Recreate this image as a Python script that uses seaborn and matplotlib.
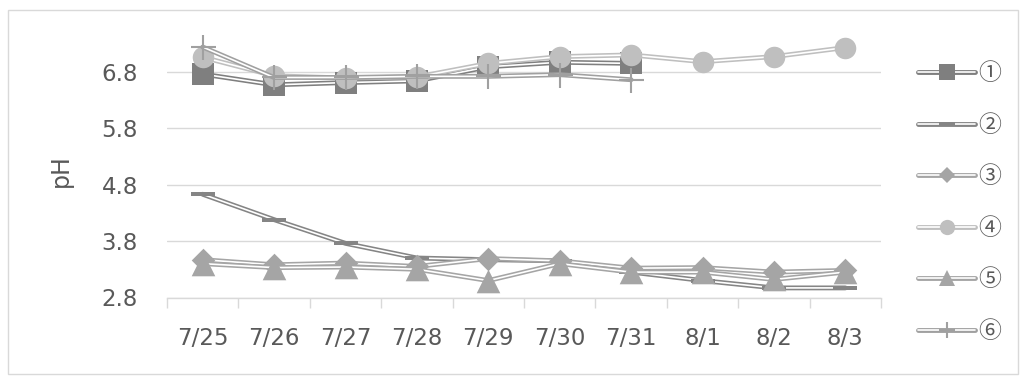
import numpy as np
import seaborn as sns
import matplotlib.pyplot as plt
from matplotlib.lines import Line2D
from matplotlib.legend_handler import HandlerTuple
from matplotlib.patches import Rectangle

# Sampling dates and pH readings for six samples (① and ⑥ stop on 7/31)
dates = ['7/25', '7/26', '7/27', '7/28', '7/29', '7/30', '7/31', '8/1', '8/2', '8/3']
ph_1 = [6.76, 6.57, 6.61, 6.64, 6.89, 6.97, 6.95]
ph_2 = [4.63, 4.18, 3.76, 3.50, 3.47, 3.45, 3.25, 3.10, 2.97, 2.97]
ph_3 = [3.47, 3.38, 3.41, 3.35, 3.49, 3.45, 3.32, 3.33, 3.25, 3.28]
ph_4 = [7.06, 6.73, 6.69, 6.71, 6.95, 7.07, 7.10, 6.98, 7.07, 7.23]
ph_5 = [3.40, 3.33, 3.34, 3.30, 3.10, 3.40, 3.25, 3.25, 3.12, 3.25]
ph_6 = [7.24, 6.70, 6.70, 6.72, 6.72, 6.75, 6.66]
labels = ['①', '②', '③', '④', '⑤', '⑥']
y_ticks = [2.8, 3.8, 4.8, 5.8, 6.8]

sns.set_theme(style='white')
plt.rcParams['font.family'] = ['DejaVu Sans', 'Noto Sans CJK JP']

TEXT = '#595959'
GRID = '#d9d9d9'

# horizontal bar marker for sample ②
bar = [(-1, -0.2), (1, -0.2), (1, 0.2), (-1, 0.2), (-1, -0.2)]

styles = [
    # color, marker, scatter size (pt), legend size (pt), edge width
    ('#7f7f7f', 's', 16, 11, 0),
    ('#858585', bar, 17, 12, 0),
    ('#a5a5a5', 'D', 12, 8, 0),
    ('#bfbfbf', 'o', 15.5, 11, 0),
    ('#a5a5a5', '^', 17, 12, 0),
    ('#a0a0a0', '+', 18, 12, 1.5),
]
series = [ph_1, ph_2, ph_3, ph_4, ph_5, ph_6]

fig = plt.figure(figsize=(10.26, 3.84), dpi=100)
fig.patches.append(Rectangle((8 / 1026, 10 / 384), 1010 / 1026, 364 / 384,
                             transform=fig.transFigure, fill=False,
                             edgecolor=GRID, linewidth=1))
ax = fig.add_axes([167 / 1026, 1 - 297.5 / 384, 714 / 1026, 259.5 / 384])

x = np.arange(len(dates))
handles = []
for i, (vals, (color, marker, ms, lms, mew)) in enumerate(zip(series, styles)):
    y = np.asarray(vals, dtype=float)
    xi = x[:len(y)]
    z = 3 + i * 3
    # double line: a wide gray stroke with a thin white core
    sns.lineplot(x=xi, y=y, ax=ax, color=color, linewidth=3.5, zorder=z, clip_on=False)
    sns.lineplot(x=xi, y=y, ax=ax, color='white', linewidth=1.2, zorder=z + 0.1, clip_on=False)
    if marker == '+':
        sns.scatterplot(x=xi, y=y, ax=ax, color=color, marker=marker, s=ms ** 2,
                        linewidth=mew, zorder=z + 0.2, clip_on=False)
    else:
        sns.scatterplot(x=xi, y=y, ax=ax, color=color, marker=marker, s=ms ** 2,
                        linewidth=0, zorder=z + 0.2, clip_on=False)
    h = (Line2D([], [], color=color, linewidth=3.5),
         Line2D([], [], color='white', linewidth=1.2),
         Line2D([], [], linestyle='none', marker=marker, color=color,
                markersize=lms, markeredgewidth=mew))
    handles.append(h)

ax.set_xlim(-0.5, len(dates) - 0.5)
ax.set_ylim(2.8, 7.4)
ax.set_xticks(x)
ax.set_xticklabels(dates)
ax.set_xticks(np.arange(-0.5, len(dates), 1), minor=True)
ax.set_yticks(y_ticks)
ax.set_yticklabels([f'{v:.1f}' for v in y_ticks])
ax.tick_params(axis='x', which='major', length=0, pad=21, labelsize=16.5, labelcolor=TEXT)
ax.tick_params(axis='x', which='minor', bottom=True, length=7, width=1, color=GRID, direction='out')
ax.tick_params(axis='y', length=0, pad=21, labelsize=16.5, labelcolor=TEXT)

ax.yaxis.grid(True, color=GRID, linewidth=1)
ax.xaxis.grid(False)
ax.set_axisbelow(True)
for side in ('top', 'right', 'left'):
    ax.spines[side].set_visible(False)
ax.spines['bottom'].set_color(GRID)
ax.spines['bottom'].set_linewidth(1)

ax.set_xlabel('')
ax.set_ylabel('pH', fontsize=17, color=TEXT)
ax.yaxis.set_label_coords(-0.132, 0.49)

fig.legend(handles, labels, handler_map={tuple: HandlerTuple(ndivide=1, pad=0)},
           loc='upper left', bbox_to_anchor=(918 / 1026, 1 - 62.5 / 384),
           bbox_transform=fig.transFigure, frameon=False,
           prop={'family': ['Noto Sans CJK JP', 'DejaVu Sans'], 'size': 16.5},
           handlelength=2.5, handletextpad=0.14, labelspacing=1.24,
           borderpad=0, borderaxespad=0, labelcolor=TEXT)

fig.savefig('out.png', dpi=100)
